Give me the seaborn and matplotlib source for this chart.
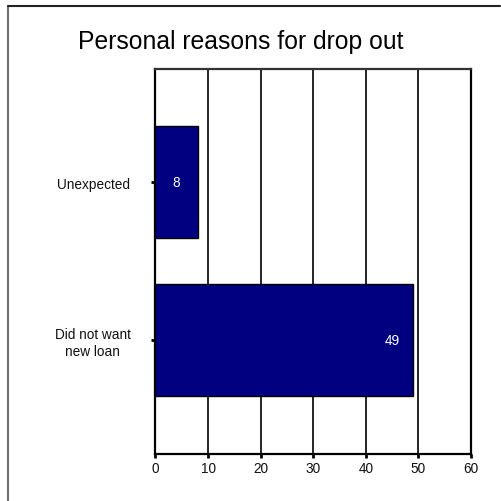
import matplotlib
matplotlib.use("Agg")
import matplotlib.pyplot as plt
from matplotlib.lines import Line2D
import seaborn as sns
import pandas as pd

categories = ["Unexpected", "Did not want\nnew loan"]
values = [8, 49]
x_ticks = [0, 10, 20, 30, 40, 50, 60]
title = "Personal reasons for drop out"

sns.set_style("white")
plt.rcParams["font.family"] = ["Liberation Sans", "DejaVu Sans"]
plt.rcParams["text.color"] = "black"

df = pd.DataFrame({"reason": categories, "count": values})

fig = plt.figure(figsize=(5.02, 5.02), dpi=100)
ax = fig.add_axes([155.5 / 502, 1 - 455 / 502, (471 - 155.5) / 502, (455 - 70) / 502])

sns.barplot(data=df, x="count", y="reason", orient="h", color="#000080",
            saturation=1, width=0.71, edgecolor="black", linewidth=1.0, ax=ax, zorder=3)

ax.set_xlim(0, 60)
ax.set_ylim(1.724, -0.72)
ax.set_xticks(x_ticks)
ax.set_xlabel("")
ax.set_ylabel("")
ax.grid(axis="x", color="black", linewidth=1.2, zorder=0)
ax.grid(axis="y", visible=False)
ax.set_axisbelow(True)
for s in ax.spines.values():
    s.set_visible(True)
    s.set_color("black")
    s.set_linewidth(1.6)
ax.spines["top"].set_color("#333333")

ax.tick_params(axis="x", direction="out", length=3, width=2, color="black",
               labelcolor="#111111", labelsize=9.8, pad=2, bottom=True)
ax.tick_params(axis="y", direction="out", length=3, width=2, color="black",
               labelcolor="#111111", labelsize=9.8, pad=15, left=True)
for lbl in ax.get_yticklabels():
    lbl.set_multialignment("center")

# value labels inside the bar ends
for i, v in enumerate(values):
    ax.annotate(str(v), xy=(v, i), xytext=(-21, 0), textcoords="offset pixels",
                ha="center", va="center", color="white", fontsize=9.8)

fig.text(241 / 502, 1 - 42 / 502, title, ha="center", va="center",
         fontsize=17.8, color="black")

# outer frame lines
fig.add_artist(Line2D([8 / 502, 8 / 502], [1 - 7 / 502, 0], color="#707070", linewidth=1.5))
fig.add_artist(Line2D([8 / 502, 500 / 502], [1 - 6.5 / 502, 1 - 6.5 / 502], color="#222222", linewidth=1.5))

fig.savefig("out.png", dpi=100)
